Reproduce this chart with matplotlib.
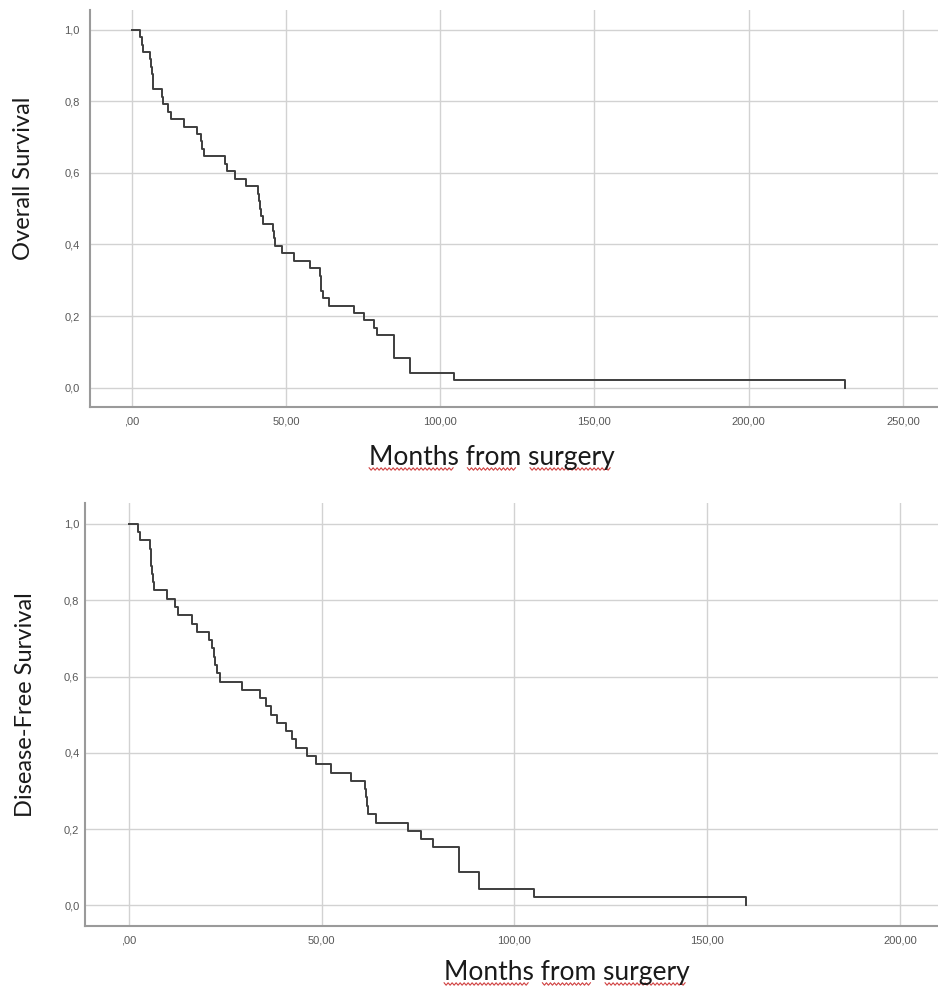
import numpy as np
import matplotlib
matplotlib.use("Agg")
import matplotlib.pyplot as plt
from matplotlib.lines import Line2D

# Overall survival (Kaplan-Meier steps)
os_months = [0, 2.7, 3.2, 3.6, 6.0, 6.3, 6.5, 6.8, 7.0, 9.7, 10.1, 11.9, 12.8,
             16.8, 21.1, 22.4, 22.7, 23.5, 30.1, 30.8, 33.5, 37.0, 40.9, 41.3,
             41.7, 42.0, 42.5, 45.8, 46.0, 46.3, 48.7, 52.5, 57.7, 61.1, 61.3,
             61.5, 62.0, 63.8, 72.2, 75.4, 78.7, 79.5, 84.9, 90.3, 104.5, 231.2]
os_surv = [1.000, 0.979, 0.958, 0.938, 0.917, 0.896, 0.875, 0.854, 0.833,
           0.813, 0.792, 0.771, 0.750, 0.729, 0.708, 0.688, 0.667, 0.646,
           0.625, 0.604, 0.583, 0.563, 0.542, 0.521, 0.500, 0.479, 0.458,
           0.438, 0.417, 0.396, 0.375, 0.354, 0.333, 0.313, 0.292, 0.271,
           0.250, 0.229, 0.208, 0.188, 0.167, 0.146, 0.083, 0.042, 0.021, 0.0]

# Disease-free survival
dfs_months = [0, 2.4, 2.9, 5.5, 5.6, 5.7, 6.0, 6.3, 6.5, 9.8, 12.0, 12.7,
              16.3, 17.7, 20.7, 21.6, 22.0, 22.4, 22.9, 23.7, 29.4, 33.9,
              35.5, 36.8, 38.5, 40.7, 42.2, 43.3, 46.3, 48.5, 52.4, 57.7,
              61.3, 61.5, 61.7, 62.0, 64.2, 72.3, 75.9, 79.0, 85.5, 90.7,
              105.0, 160.0]
dfs_surv = [1.000, 0.978, 0.957, 0.935, 0.913, 0.891, 0.870, 0.848, 0.826,
            0.804, 0.783, 0.761, 0.739, 0.717, 0.696, 0.674, 0.652, 0.630,
            0.609, 0.587, 0.565, 0.543, 0.522, 0.500, 0.478, 0.457, 0.435,
            0.413, 0.391, 0.370, 0.348, 0.326, 0.304, 0.283, 0.261, 0.239,
            0.217, 0.196, 0.174, 0.152, 0.087, 0.043, 0.022, 0.0]

y_ticks = [0.0, 0.2, 0.4, 0.6, 0.8, 1.0]
y_labels = ["0,0", "0,2", "0,4", "0,6", "0,8", "1,0"]
os_xticks = [0, 50, 100, 150, 200, 250]
os_xlabels = [",00", "50,00", "100,00", "150,00", "200,00", "250,00"]
dfs_xticks = [0, 50, 100, 150, 200]
dfs_xlabels = [",00", "50,00", "100,00", "150,00", "200,00"]

W, H = 938, 991
fig = plt.figure(figsize=(W / 100, H / 100), dpi=100)
fig.patch.set_facecolor("white")

LABEL_FONT = "Lato"
TICK_FONT = "Liberation Sans"


def style_axes(ax, xticks, xlabels, xlim, ypad):
    ax.set_xlim(*xlim)
    ax.set_ylim(-0.054, 1.055)
    ax.set_xticks(xticks)
    ax.set_xticklabels(xlabels)
    ax.set_yticks(y_ticks)
    ax.set_yticklabels(y_labels)
    ax.grid(True, color="#d2d2d2", linewidth=1.0)
    ax.set_axisbelow(True)
    for side in ["top", "right"]:
        ax.spines[side].set_visible(False)
    for side in ["left", "bottom"]:
        ax.spines[side].set_color("#9a9a9a")
        ax.spines[side].set_linewidth(1.5)
    ax.tick_params(length=0, labelsize=8, labelcolor="#585858")
    ax.tick_params(axis="y", pad=ypad)
    ax.tick_params(axis="x", pad=6.5)
    for lab in ax.get_xticklabels() + ax.get_yticklabels():
        lab.set_fontfamily(TICK_FONT)


# top panel: overall survival
ax1 = fig.add_axes([89.5 / W, 1 - 407 / H, (W - 89.5) / W, 397 / H])
ax1.step(os_months, os_surv, where="post", color="#3e3e3e", linewidth=1.4)
style_axes(ax1, os_xticks, os_xlabels, (-13.7, 261.4), 7)

# bottom panel: disease-free survival
ax2 = fig.add_axes([85 / W, 1 - 926 / H, (W - 85) / W, 423 / H])
ax2.step(dfs_months, dfs_surv, where="post", color="#3e3e3e", linewidth=1.4)
style_axes(ax2, dfs_xticks, dfs_xlabels, (-11.4, 209.9), 4)

# axis titles placed like in the pasted screenshot
xl1 = fig.text(492 / W, 1 - 465 / H, "Months from surgery", fontsize=19,
               family=LABEL_FONT, ha="center", va="baseline", color="#1a1a1a")
xl2 = fig.text(567 / W, 1 - 980 / H, "Months from surgery", fontsize=19,
               family=LABEL_FONT, ha="center", va="baseline", color="#1a1a1a")
fig.text(23 / W, 1 - 178 / H, "Overall Survival", fontsize=17,
         family=LABEL_FONT, rotation=90, ha="center", va="center",
         color="#1a1a1a")
fig.text(26 / W, 1 - 705 / H, "Disease-Free Survival", fontsize=17,
         family=LABEL_FONT, rotation=90, ha="center", va="center",
         color="#1a1a1a")

# red spell-check squiggles under the x titles
renderer = fig.canvas.get_renderer()
word_spans = [(0.0, 0.345), (0.40, 0.60), (0.655, 0.985)]
for txt in [xl1, xl2]:
    bb = txt.get_window_extent(renderer)
    base = bb.y0 + 1
    for a, b in word_spans:
        xs = np.arange(bb.x0 + a * bb.width, bb.x0 + b * bb.width, 2.0)
        ys = base + np.where(np.arange(len(xs)) % 2 == 0, 1.2, -1.2)
        fig.add_artist(Line2D(xs / W, ys / H, transform=fig.transFigure,
                              color="#d04040", linewidth=0.8))

fig.savefig("out.png", dpi=100, facecolor="white")
